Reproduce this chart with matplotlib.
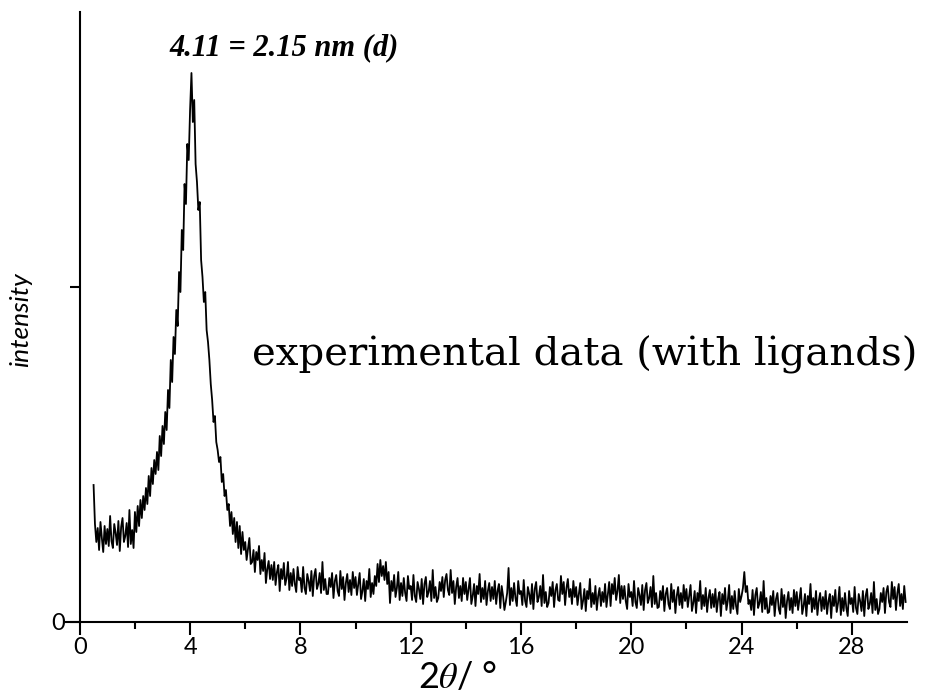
import matplotlib
matplotlib.use('Agg')
import matplotlib.pyplot as plt
import numpy as np

# scan grid: 2theta from 0.5 deg, 0.05 deg steps
two_theta_start = 0.5
two_theta_step = 0.05

# intensity (arbitrary units), one row per degree
intensity = [
    137, 98, 80, 94, 72, 100, 84, 70, 96, 78,                                                  # 0.5
    93, 76, 106, 81, 74, 98, 89, 77, 101, 71, 95, 104, 80, 86, 99, 75, 112, 78, 92, 74,        # 1
    110, 90, 116, 96, 122, 104, 126, 112, 134, 118, 146, 126, 154, 138, 162, 148, 170, 152, 186, 166,  # 2
    196, 178, 210, 192, 232, 214, 262, 240, 285, 268, 312, 296, 350, 330, 392, 372, 438, 418, 478, 462,  # 3
    512, 549, 500, 522, 458, 440, 412, 420, 362, 345, 320, 330, 292, 280, 262, 238, 222, 200, 206, 180,  # 4
    172, 160, 165, 140, 148, 126, 132, 112, 118, 96, 110, 88, 104, 80, 100, 74, 96, 68, 90, 72,  # 5
    80, 62, 73, 84, 58, 60, 72, 50, 70, 62, 76, 48, 62, 51, 69, 39, 53, 61, 43, 57,  # 6
    42, 60, 37, 50, 57, 31, 53, 43, 59, 37, 44, 60, 32, 49, 36, 53, 38, 30, 55, 42,  # 7
    44, 30, 55, 34, 28, 48, 41, 31, 51, 26, 46, 53, 33, 38, 49, 29, 60, 32, 43, 28,  # 8
    28, 44, 35, 49, 24, 41, 47, 31, 26, 51, 33, 45, 22, 39, 48, 30, 42, 27, 50, 34,  # 9
    45, 27, 38, 49, 23, 31, 43, 21, 41, 33, 53, 25, 39, 28, 46, 36, 58, 40, 62, 46,  # 10
    56, 42, 60, 38, 50, 19, 41, 31, 47, 25, 34, 50, 22, 39, 26, 44, 29, 21, 46, 33,  # 11
    36, 22, 47, 26, 20, 40, 33, 23, 43, 18, 38, 45, 25, 30, 41, 21, 52, 24, 35, 20,  # 12
    24, 40, 31, 45, 25, 42, 48, 32, 27, 52, 29, 41, 18, 35, 44, 24, 36, 21, 44, 28,  # 13
    40, 22, 33, 44, 18, 26, 38, 16, 36, 28, 48, 20, 34, 23, 41, 17, 31, 39, 21, 35,  # 14
    23, 41, 18, 31, 38, 14, 36, 26, 12, 20, 29, 54, 17, 34, 21, 39, 24, 16, 41, 28,  # 15
    31, 17, 42, 21, 15, 35, 28, 18, 38, 13, 33, 40, 20, 25, 36, 16, 47, 19, 30, 15,  # 16
    19, 35, 26, 40, 15, 32, 38, 22, 21, 46, 28, 40, 17, 34, 43, 25, 33, 18, 41, 25,  # 17
    35, 17, 28, 39, 13, 21, 33, 11, 31, 23, 43, 15, 29, 18, 36, 12, 26, 34, 16, 30,  # 18
    20, 38, 15, 28, 40, 16, 38, 28, 44, 22, 31, 47, 19, 36, 23, 36, 21, 13, 38, 25,  # 19
    30, 16, 41, 20, 14, 34, 27, 17, 37, 12, 32, 39, 19, 24, 35, 15, 46, 18, 29, 14,  # 20
    15, 31, 22, 36, 11, 28, 34, 18, 13, 38, 20, 32, 9, 26, 35, 17, 29, 14, 37, 21,  # 21
    33, 15, 26, 37, 11, 19, 31, 9, 29, 21, 41, 13, 27, 16, 34, 10, 24, 32, 14, 28,  # 22
    15, 33, 10, 23, 30, 6, 28, 18, 34, 12, 21, 37, 9, 26, 13, 31, 16, 8, 33, 20,  # 23
    26, 34, 50, 30, 36, 18, 22, 12, 32, 7, 27, 34, 14, 19, 30, 10, 41, 13, 24, 9,  # 24
    10, 26, 17, 31, 6, 23, 29, 13, 8, 33, 15, 27, 4, 21, 30, 12, 24, 9, 32, 16,  # 25
    30, 12, 23, 34, 8, 16, 28, 6, 26, 18, 38, 10, 24, 13, 31, 7, 21, 29, 11, 25,  # 26
    13, 31, 8, 21, 28, 4, 26, 16, 32, 10, 19, 35, 7, 24, 11, 29, 14, 6, 31, 18,  # 27
    24, 10, 35, 14, 8, 28, 21, 11, 31, 6, 26, 33, 13, 18, 29, 9, 40, 12, 23, 8,  # 28
    13, 29, 20, 34, 9, 30, 36, 20, 15, 40, 23, 35, 12, 29, 38, 16, 28, 13, 36, 20,  # 29
]

x_ticks = [0, 4, 8, 12, 16, 20, 24, 28]
y_ticks = [0, 335]
y_tick_labels = ['0', '']

two_theta = two_theta_start + two_theta_step * np.arange(len(intensity))

plt.rcParams['font.family'] = ['Lato', 'DejaVu Sans']
plt.rcParams['mathtext.fontset'] = 'stix'

fig = plt.figure(figsize=(9.28, 6.96), dpi=100)
ax = fig.add_axes([66 / 928, 74 / 696, 841 / 928, 610 / 696])

ax.plot(two_theta, intensity, color='black', linewidth=1.3)

ax.set_xlim(-0.5, 30)
ax.set_ylim(0, 610)

for side in ['top', 'right']:
    ax.spines[side].set_visible(False)
ax.spines['left'].set_position(('data', 0))
ax.spines['left'].set_linewidth(1.5)
ax.spines['bottom'].set_linewidth(1.5)

ax.set_xticks(x_ticks)
ax.set_xticks(np.arange(2, 30, 4), minor=True)
ax.set_yticks(y_ticks)
ax.set_yticklabels(y_tick_labels)
ax.tick_params(axis='x', which='major', direction='out', length=9, width=1.5,
               labelsize=17, pad=2)
ax.tick_params(axis='x', which='minor', direction='out', length=5, width=1.5)
ax.tick_params(axis='y', direction='out', length=7, width=1.5, labelsize=17, pad=4)

fig.text(458 / 928, 1 - 677 / 696, r'2$\theta$/ °', fontsize=26,
         ha='center', va='center')
fig.text(21 / 928, 1 - 320 / 696, 'intensity', fontsize=19, style='italic',
         rotation=90, ha='center', va='center')

ax.text(7.4, 574, '4.11 = 2.15 nm (d)', fontsize=22, fontweight='bold',
        style='italic', family='Liberation Serif', ha='center', va='center')
ax.text(6.25, 267, 'experimental data (with ligands)', fontsize=29,
        family='DejaVu Serif', ha='left', va='center')

fig.savefig('out.png', dpi=100)
